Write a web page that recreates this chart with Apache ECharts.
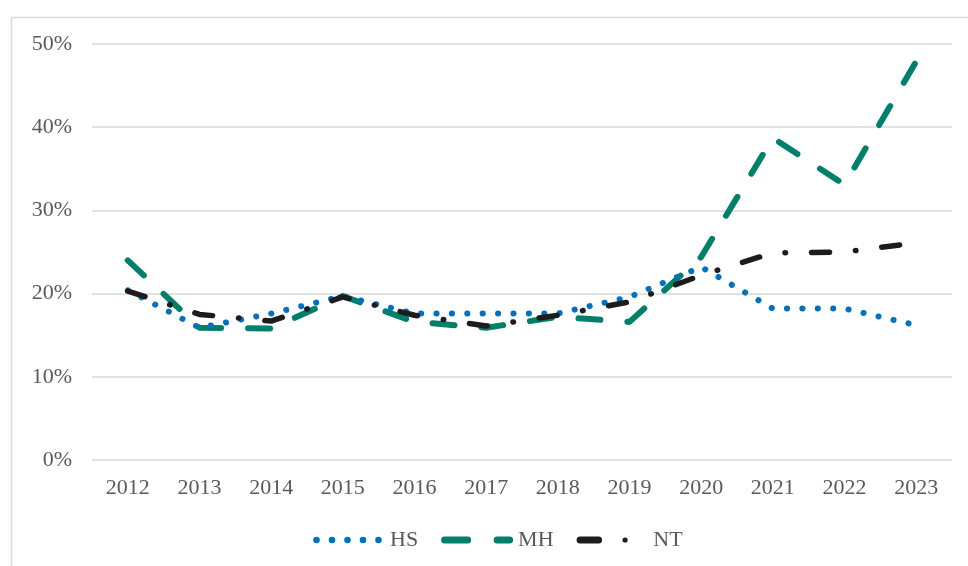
<!DOCTYPE html>
<html>
<head>
<meta charset="utf-8">
<script src="https://cdn.jsdelivr.net/npm/echarts@6/dist/echarts.min.js"></script>
<style>html,body{margin:0;padding:0;background:#fff;}#c{width:968px;height:566px;}</style>
</head>
<body>
<div id="c"></div>
<script>
const years = ['2012','2013','2014','2015','2016','2017','2018','2019','2020','2021','2022','2023'];
const hs = [20.4, 15.9, 17.6, 19.7, 17.6, 17.6, 17.6, 19.6, 23.2, 18.2, 18.2, 16.2];
const mh = [24.0, 15.9, 15.8, 19.7, 16.6, 15.9, 17.2, 16.6, 24.4, 38.7, 33.1, 47.9];
const nt = [20.3, 17.5, 16.7, 19.6, 17.4, 16.1, 17.4, 19.0, 22.2, 24.9, 25.0, 26.1];
const yTicks = [0, 10, 20, 30, 40, 50];

const FONT = '"Liberation Serif", "Times New Roman", serif';

function circ(cx, cy, r) {
  return 'M' + (cx - r) + ' ' + cy + ' A' + r + ' ' + r + ' 0 1 0 ' + (cx + r) + ' ' + cy +
         ' A' + r + ' ' + r + ' 0 1 0 ' + (cx - r) + ' ' + cy + ' Z ';
}
function pill(x1, x2, cy, r) {
  return 'M' + (x1 + r) + ' ' + (cy - r) + ' L' + (x2 - r) + ' ' + (cy - r) +
         ' A' + r + ' ' + r + ' 0 0 1 ' + (x2 - r) + ' ' + (cy + r) +
         ' L' + (x1 + r) + ' ' + (cy + r) +
         ' A' + r + ' ' + r + ' 0 0 1 ' + (x1 + r) + ' ' + (cy - r) + ' Z ';
}
const iconHS = 'path://' + circ(3.5, 3.5, 3.3) + circ(19, 3.5, 3.3) + circ(34.5, 3.5, 3.3) + circ(50, 3.5, 3.3) + circ(65.5, 3.5, 3.3) + 'M0 0 M72 7';
const iconMH = 'path://' + pill(0, 30, 3.5, 3.5) + pill(52.5, 72, 3.5, 3.5);
const iconNT = 'path://' + pill(0.5, 26, 3.5, 3.5) + 'M72 3.5 ' + circ(49, 3.5, 2.6);

const chart = echarts.init(document.getElementById('c'), null, {renderer: 'canvas'});
chart.setOption({
  animation: false,
  backgroundColor: '#fff',
  graphic: [{
    type: 'rect', left: 9, top: 15, silent: true, z: -10,
    shape: {x: 0, y: 0, width: 1000, height: 600},
    style: {fill: 'none', stroke: '#d9d9d9', lineWidth: 1.5}
  }],
  grid: {left: 92, right: 16, top: 44, bottom: 106, containLabel: false},
  xAxis: {
    type: 'category', data: years, boundaryGap: true,
    axisLine: {show: false}, axisTick: {show: false},
    axisLabel: {color: '#595959', fontFamily: FONT, fontSize: 22, margin: 17}
  },
  yAxis: {
    type: 'value', min: yTicks[0], max: yTicks[yTicks.length - 1], interval: 10,
    axisLine: {show: false}, axisTick: {show: false},
    axisLabel: {color: '#595959', fontFamily: FONT, fontSize: 22, margin: 20,
      formatter: v => v + '%'},
    splitLine: {lineStyle: {color: '#d9d9d9', width: 1.5}}
  },
  legend: {
    bottom: 10, left: 308, itemWidth: 72, itemHeight: 7, itemGap: 23,
    textStyle: {color: '#595959', fontFamily: FONT, fontSize: 22},
    data: [
      {name: 'HS', icon: iconHS},
      {name: 'MH', icon: iconMH},
      {name: 'NT', icon: iconNT}
    ]
  },
  series: [
    {name: 'HS', type: 'line', data: hs, showSymbol: false, symbol: 'none', z: 3,
      lineStyle: {color: '#0070C0', width: 6, type: [0.1, 15.3], cap: 'round', join: 'round'},
      itemStyle: {color: '#0070C0'}},
    {name: 'MH', type: 'line', data: mh, showSymbol: false, symbol: 'none', z: 2,
      lineStyle: {color: '#007F6A', width: 6, type: [22, 27], cap: 'round', join: 'round'},
      itemStyle: {color: '#007F6A'}},
    {name: 'NT', type: 'line', data: nt, showSymbol: false, symbol: 'none', z: 4,
      lineStyle: {color: '#1c1c1c', width: 5.5, type: [18, 26, 0.5, 26], cap: 'round', join: 'round'},
      itemStyle: {color: '#1c1c1c'}}
  ]
});
</script>
</body>
</html>
